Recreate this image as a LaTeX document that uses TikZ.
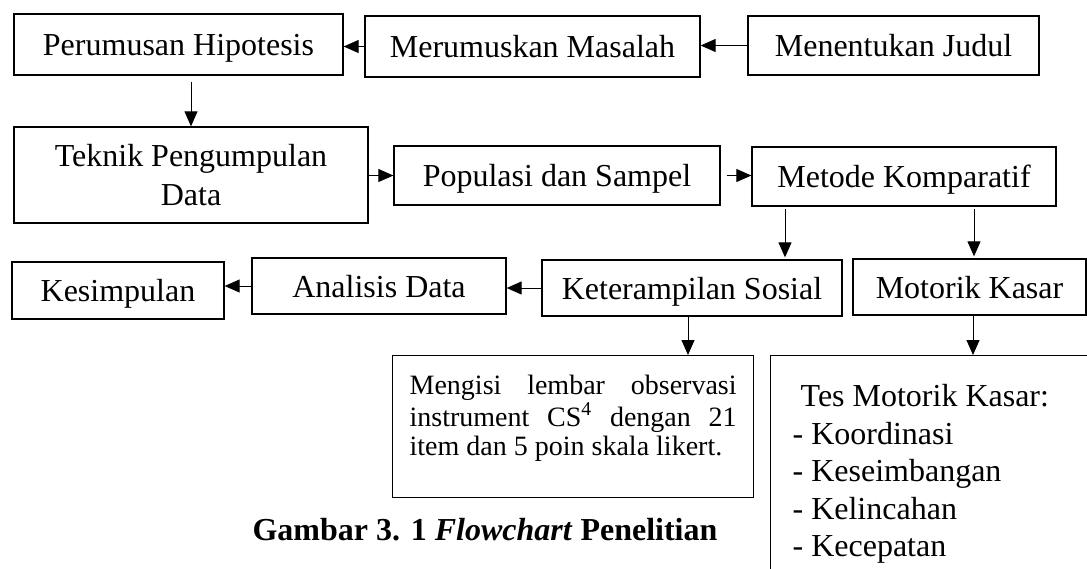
\documentclass[tikz,border=0pt]{standalone}
\usepackage{fontspec}
\setmainfont{Liberation Serif}
\usetikzlibrary{arrows.meta}
\tikzset{every node/.style={font=\fontsize{16pt}{19.5pt}\selectfont}}
\tikzset{box/.style={draw,line width=0.65pt,inner sep=0pt}}
\tikzset{single/.style={box,text height=12.5pt,text depth=1.5pt}}
\tikzset{arr/.style={line width=0.5pt,-{Triangle[length=7.5pt,width=6.5pt]}}}

\begin{document}
\begin{tikzpicture}[x=0.5pt,y=-0.5pt]

\useasboundingbox (0,0) rectangle (1087,568);
\clip (0,0) rectangle (1087,568);

\node[single,minimum width=164.5pt,minimum height=30.5pt] (perumusan) at (178.5,44.5) {Perumusan Hipotesis};
\node[single,minimum width=167.5pt,minimum height=30.5pt] (merumuskan) at (532.5,46.5) {Merumuskan Masalah};
\node[single,minimum width=145.5pt,minimum height=29.5pt] (menentukan) at (893.5,45.5) {Menentukan Judul};
\node[box,minimum width=177pt,minimum height=48pt,align=center] (teknik) at (191,175) {Teknik Pengumpulan\\Data};
\node[single,minimum width=163pt,minimum height=29.5pt] (populasi) at (557,175.5) {Populasi dan Sampel};
\node[single,minimum width=152pt,minimum height=29.5pt] (metode) at (904,176.5) {Metode Komparatif};
\node[single,minimum width=106pt,minimum height=28.5pt] (kesimpulan) at (118,290.5) {Kesimpulan};
\node[single,minimum width=127pt,minimum height=28pt] (analisis) at (379,286) {Analisis Data};
\node[single,minimum width=150pt,minimum height=28pt] (keterampilan) at (692,288) {Keterampilan Sosial};
\node[single,minimum width=116.5pt,minimum height=28pt] (motorik) at (969.5,287) {Motorik Kasar};
\node[box,anchor=north west,inner xsep=8.5pt,inner ysep=9.9pt,font=\fontsize{14pt}{14.5pt}\selectfont] (mengisi) at (392,355) {\parbox[c][51.2pt][t]{163.5pt}{\makebox[163.5pt][s]{Mengisi lembar observasi}\\\makebox[163.5pt][s]{instrument CS\textsuperscript{4} dengan 21}\\item dan 5 poin skala likert.}};
\node[box,anchor=north west,inner xsep=11pt,inner ysep=14.4pt,font=\fontsize{16pt}{18.75pt}\selectfont] (tes) at (770,355) {\parbox[c][95pt][t]{160pt}{\raggedright\hspace*{4pt}Tes Motorik Kasar:\\- Koordinasi\\- Keseimbangan\\- Kelincahan\\- Kecepatan}};
\node[font=\fontsize{16pt}{19pt}\selectfont\bfseries] (judul) at (485,530) {Gambar 3. 1 \textit{Flowchart} Penelitian};

\draw[arr] (menentukan.west) -- (menentukan.west -| merumuskan.east);
\draw[arr] (merumuskan.west) -- (merumuskan.west -| perumusan.east);
\draw[arr,shorten <=3pt] (perumusan.south -| teknik.north) -- (teknik.north);
\draw[arr] (populasi.west -| teknik.east) -- (populasi.west);
\draw[arr,shorten <=3pt] (populasi.east) -- (populasi.east -| metode.west);
\draw[arr,shorten <=1pt,shorten >=1pt] ([xshift=-59.5pt]metode.south) -- ([xshift=-59.5pt]metode.south |- keterampilan.north);
\draw[arr,shorten <=1pt,shorten >=1pt] ([xshift=35pt]metode.south) -- ([xshift=35pt]metode.south |- motorik.north);
\draw[arr] (keterampilan.west) -- (keterampilan.west -| analisis.east);
\draw[arr] (analisis.west) -- (analisis.west -| kesimpulan.east);
\draw[arr] ([xshift=-2pt]keterampilan.south) -- ([xshift=-2pt]keterampilan.south |- mengisi.north);
\draw[arr] ([xshift=1.75pt]motorik.south) -- ([xshift=1.75pt]motorik.south |- tes.north);

\end{tikzpicture}
\end{document}
